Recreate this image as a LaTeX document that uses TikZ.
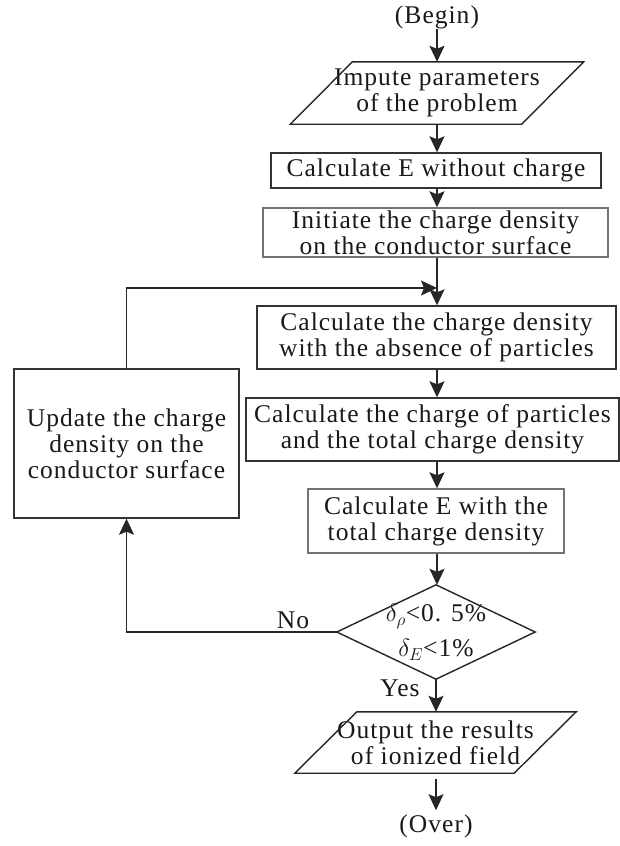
\documentclass[tikz,border=0pt]{standalone}
\usepackage{fontspec}
\setmainfont{Liberation Serif}[LetterSpace=4]
\usetikzlibrary{arrows.meta,shapes.geometric}
\begin{document}
\begin{tikzpicture}[x=1pt,y=-1pt,
  every node/.style={font=\fontsize{25.5}{26}\selectfont, text=black!90, align=center, inner sep=0pt},
  box/.style={draw=black!80, line width=1.4pt, rectangle},
  lbox/.style={draw=black!55, line width=1.4pt, rectangle},
  io/.style={rectangle},
  arr/.style={draw=black!85, line width=1.4pt, -{Stealth[length=16pt,width=15pt,inset=3pt]}},
  ln/.style={draw=black!85, line width=1.4pt},
]
\useasboundingbox[fill=white] (0,0) rectangle (620,846);
% nodes
\node (begin) at (437,17) {(Begin)};
\node[io, minimum width=231pt, minimum height=62pt] (inp) at (437,93) {Impute parameters\\of the problem};
\draw[ln] ([xshift=31pt]inp.north west) -- ([xshift=31pt]inp.north east) -- ([xshift=-31pt]inp.south east) -- ([xshift=-31pt]inp.south west) -- cycle;
\node[box, minimum width=330pt, minimum height=35pt] (b2) at (436,170.5) {Calculate E without charge};
\node[lbox, minimum width=345pt, minimum height=49pt] (b3) at (435.5,232.5) {Initiate the charge density\\on the conductor surface};
\node[box, minimum width=359pt, minimum height=63pt] (abs) at (436.5,337.5) {Calculate the charge density\\with the absence of particles};
\node[box, minimum width=373pt, minimum height=63pt] (part) at (432.5,429.5) {Calculate the charge of particles\\and the total charge density};
\node[lbox, minimum width=256pt, minimum height=64pt] (etot) at (436,521) {Calculate E with the\\total charge density};
\node[box, minimum width=225pt, minimum height=149pt] (upd) at (126.5,443.5) {Update the charge\\density on the\\conductor surface};
\node[minimum width=198pt, minimum height=94pt] (dia) at (436,632) {$\delta_\rho$<0. 5\%\\[9pt]$\delta_E$<1\%};
\draw[ln] (dia.north) -- (dia.east) -- (dia.south) -- (dia.west) -- cycle;
\node (no) at (293,620) {No};
\node (yes) at (400,688) {Yes};
\node[io, minimum width=219pt, minimum height=61pt] (out) at (435.5,742.5) {Output the results\\of ionized field};
\draw[ln] ([xshift=31pt]out.north west) -- ([xshift=31pt]out.north east) -- ([xshift=-31pt]out.south east) -- ([xshift=-31pt]out.south west) -- cycle;
\node (over) at (436,826) {(Over)};
\coordinate (merge) at (437,288);
% connectors
\draw[arr] (begin.south) -- (begin.south |- inp.north);
\draw[arr] (inp.south) -- (inp.south |- b2.north);
\draw[arr] (inp.south |- b2.south) -- (inp.south |- b3.north);
\draw[arr] (merge |- b3.south) -- (merge |- abs.north);
\draw[arr] (upd.north) |- (merge);
\draw[arr] (merge |- abs.south) -- (merge |- part.north);
\draw[arr] (merge |- part.south) -- (merge |- etot.north);
\draw[arr] (merge |- etot.south) -- (merge |- dia.north);
\draw[arr] (dia.west) -| (upd.south);
\draw[arr] (dia.south) -- (dia.south |- out.north);
\draw[arr] ([yshift=-6pt]dia.south |- out.south) -- ([yshift=4pt]dia.south |- over.north);
\end{tikzpicture}
\end{document}
